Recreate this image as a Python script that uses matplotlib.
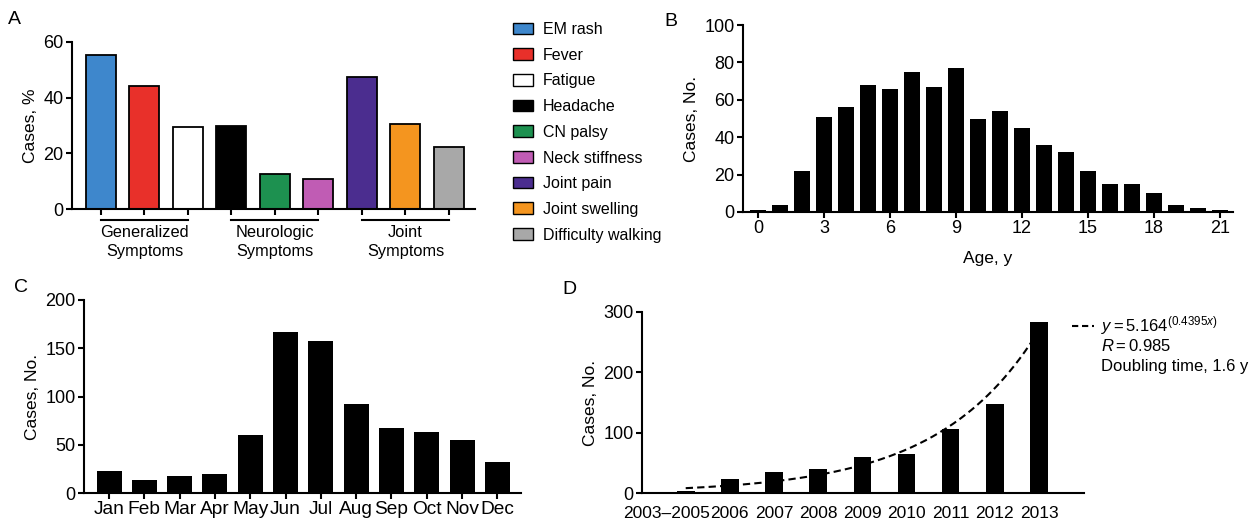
import matplotlib
matplotlib.use("Agg")
import matplotlib.pyplot as plt
import numpy as np
from matplotlib.patches import Patch
from matplotlib.lines import Line2D
import matplotlib.transforms as mtransforms

plt.rcParams['font.family'] = ['Liberation Sans', 'DejaVu Sans']
plt.rcParams['mathtext.fontset'] = 'custom'
plt.rcParams['mathtext.rm'] = 'Liberation Sans'
plt.rcParams['mathtext.it'] = 'Liberation Sans:italic'

# ---------------- data ----------------
symptoms = ["EM rash", "Fever", "Fatigue", "Headache", "CN palsy",
            "Neck stiffness", "Joint pain", "Joint swelling", "Difficulty walking"]
symptom_pct = [55.3, 44.3, 29.3, 29.9, 12.7, 10.8, 47.4, 30.7, 22.1]
symptom_colors = ["#3e87cc", "#e8302a", "#ffffff", "#000000", "#1d9150",
                  "#c05cb4", "#4b2d8f", "#f4951f", "#a8a8a8"]
groups = ["Generalized\nSymptoms", "Neurologic\nSymptoms", "Joint\nSymptoms"]

ages = list(range(0, 22))
age_cases = [1, 4, 22, 51, 56, 68, 66, 75, 67, 77, 50, 54, 45, 36, 32, 22, 15, 15, 10, 4, 2, 1]

months = ["Jan", "Feb", "Mar", "Apr", "May", "Jun", "Jul", "Aug", "Sep", "Oct", "Nov", "Dec"]
month_cases = [23, 13, 18, 20, 60, 167, 157, 92, 67, 63, 55, 32]

years = ["2003\u20132005", "2006", "2007", "2008", "2009", "2010", "2011", "2012", "2013"]
year_cases = [4, 24, 34, 40, 60, 64, 106, 148, 284]
fit_a = 5.164
fit_b = 0.4395
fit_R = 0.985
doubling = 1.6

# ---------------- figure ----------------
W, H = 1259, 523
fig = plt.figure(figsize=(W / 100, H / 100), dpi=100)

LW = 1.5
TICKFS = 13


def style(ax):
    for s in ["top", "right"]:
        ax.spines[s].set_visible(False)
    for s in ["left", "bottom"]:
        ax.spines[s].set_linewidth(LW)
    ax.tick_params(direction="out", length=4, width=LW, labelsize=TICKFS, pad=2)


def rect(l, t, r, b):
    return [l / W, 1 - b / H, (r - l) / W, (b - t) / H]

# ---- Panel A ----
axA = fig.add_axes(rect(72, 42, 475, 209))
style(axA)
xA = np.arange(len(symptoms))
axA.bar(xA, symptom_pct, width=0.69, color=symptom_colors, edgecolor="black", linewidth=1.3)
axA.set_ylim(0, 60)
axA.set_xlim(-0.667, 8.6)
axA.set_yticks([0, 20, 40, 60])
axA.set_xticks(xA)
axA.set_xticklabels([])
axA.set_ylabel("Cases, %", fontsize=12.5)
trA = mtransforms.blended_transform_factory(axA.transData, axA.transAxes)
for gi, g in enumerate(groups):
    x0, x1 = gi * 3, gi * 3 + 2
    axA.add_line(Line2D([x0, x1], [-0.068, -0.068], transform=trA, color="black",
                        lw=LW, clip_on=False))
    axA.text(gi * 3 + 1, -0.098, g, transform=trA, ha="center", va="top",
             fontsize=11.8, linespacing=1.3)

handles = [Patch(facecolor=c, edgecolor="black", linewidth=1.0) for c in symptom_colors]
fig.legend(handles, symptoms, loc="upper left", bbox_to_anchor=(513 / W, 1 - 22 / H),
           frameon=False, fontsize=11.5, handlelength=1.25, handleheight=0.75,
           handletextpad=0.6, labelspacing=0.67, borderaxespad=0, borderpad=0)

# ---- Panel B ----
axB = fig.add_axes(rect(743, 25, 1233, 212))
style(axB)
axB.bar(ages, age_cases, width=0.72, color="black")
axB.set_ylim(0, 100)
axB.set_xlim(-0.68, 21.6)
axB.set_yticks([0, 20, 40, 60, 80, 100])
axB.set_xticks([0, 3, 6, 9, 12, 15, 18, 21])
axB.set_ylabel("Cases, No.", fontsize=12.5)
axB.set_xlabel("Age, y", fontsize=12.5, labelpad=10)

# ---- Panel C ----
axC = fig.add_axes(rect(84, 300, 521, 493))
style(axC)
xC = np.arange(len(months))
axC.bar(xC, month_cases, width=0.71, color="black")
axC.set_ylim(0, 200)
axC.set_xlim(-0.71, 11.67)
axC.set_yticks([0, 50, 100, 150, 200])
axC.set_xticks(xC)
axC.set_xticklabels(months, fontsize=13.8)
axC.set_ylabel("Cases, No.", fontsize=12.5)

# ---- Panel D ----
axD = fig.add_axes(rect(642, 312, 1084, 493))
style(axD)
xD = np.arange(len(years))
axD.bar(xD, year_cases, width=0.40, color="black")
xf = np.linspace(0, 8, 200)
axD.plot(xf, fit_a * np.exp(fit_b * (xf + 1)), color="black", lw=1.5,
         dashes=(3.5, 2.0), zorder=3)
axD.set_ylim(0, 300)
axD.set_xlim(-0.99, 9.02)
axD.set_yticks([0, 100, 200, 300])
axD.set_xticks(xD)
axD.set_xticklabels(years, fontsize=12.5)
axD.tick_params(axis="x", length=0, pad=9)
axD.set_ylabel("Cases, No.", fontsize=12.5)
lab0 = axD.get_xticklabels()[0]
lab0.set_transform(lab0.get_transform() + mtransforms.ScaledTranslation(-19 / 100, 0, fig.dpi_scale_trans))

# D legend
fig.add_artist(Line2D([1072 / W, 1094 / W], [1 - 326 / H, 1 - 326 / H], color="black",
                      lw=1.5, dashes=(3.0, 1.8), transform=fig.transFigure))
fig.text(1101 / W, 1 - 326 / H, r"$y = %.3f^{(%.4f x)}$" % (fit_a, fit_b),
         fontsize=12, va="center", ha="left")
fig.text(1101 / W, 1 - 346 / H, r"$R = %.3f$" % fit_R, fontsize=12, va="center", ha="left")
fig.text(1101 / W, 1 - 366 / H, "Doubling time, %.1f y" % doubling, fontsize=12,
         va="center", ha="left")

# panel letters
fig.text(8 / W, 1 - 19 / H, "A", fontsize=14, va="center", ha="left")
fig.text(664 / W, 1 - 22 / H, "B", fontsize=14, va="center", ha="left")
fig.text(14 / W, 1 - 287 / H, "C", fontsize=14, va="center", ha="left")
fig.text(562 / W, 1 - 290 / H, "D", fontsize=14, va="center", ha="left")

fig.savefig("out.png", dpi=100, facecolor="white")
